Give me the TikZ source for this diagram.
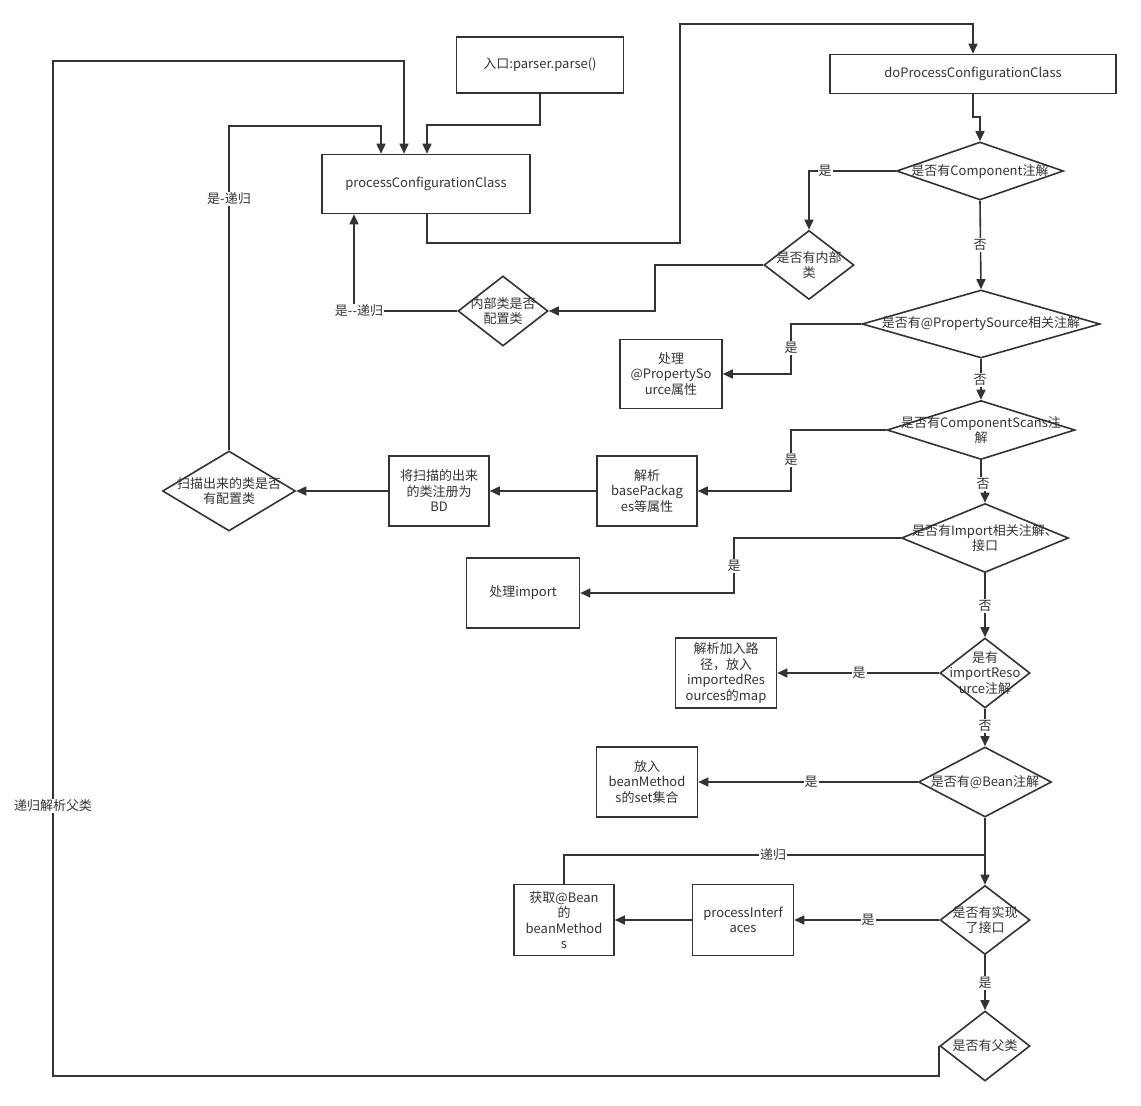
\documentclass[tikz,border=0pt]{standalone}
\usepackage{fontspec}
\setmainfont{Noto Sans CJK SC}
\usetikzlibrary{shapes.geometric,arrows.meta}
\definecolor{ink}{HTML}{333333}
\begin{document}
\begin{tikzpicture}[x=1pt,y=-1pt,
  every node/.style={font=\fontsize{13}{15.5}\selectfont, text=ink},
  box/.style={draw=ink, line width=1.6pt, rectangle, align=center, inner sep=0pt},
  dia/.style={draw=ink, line width=1.6pt, diamond, inner sep=0pt},
  dtext/.style={align=center, inner sep=0pt},
  conn/.style={draw=ink, line width=1.6pt},
  arr/.style={conn, -{Triangle[length=10pt,width=9pt]}},
  elab/.style={fill=white, inner sep=1pt}]
\useasboundingbox (0,0) rectangle (1141,1106);
% boxes
\node[box, minimum width=167pt, minimum height=56pt] (entry) at (540,65) {入口:parser.parse()};
\node[box, minimum width=208pt, minimum height=59pt] (pcc) at (426,184) {processConfigurationClass};
\node[box, minimum width=286pt, minimum height=39pt] (dop) at (973,74) {doProcessConfigurationClass};
\node[box, minimum width=102pt, minimum height=69pt] (prop) at (671,374) {处理\\@PropertySo\\urce属性};
\node[box, minimum width=100pt, minimum height=70pt] (basep) at (647,491) {解析\\basePackag\\es等属性};
\node[box, minimum width=100pt, minimum height=70pt] (reg) at (439,491) {将扫描的出来\\的类注册为\\BD};
\node[box, minimum width=113pt, minimum height=70pt] (imp) at (523,593) {处理import};
\node[box, minimum width=101pt, minimum height=70pt] (res) at (726,673) {解析加入路\\径，放入\\importedRes\\ources的map};
\node[box, minimum width=101pt, minimum height=70pt] (beans) at (647,782) {放入\\beanMethod\\s的set集合};
\node[box, minimum width=101pt, minimum height=71pt] (pint) at (743,920) {processInterf\\aces};
\node[box, minimum width=100pt, minimum height=71pt] (getb) at (564,920) {获取@Bean\\的\\beanMethod\\s};
% diamonds
\node[dia, minimum width=167pt, minimum height=58pt] (d1) at (980,171) {};
\node[dtext] (t1) at (d1) {是否有Component注解};
\node[dia, minimum width=90pt, minimum height=69pt] (d2) at (809,265) {};
\node[dtext] (t2) at (d2) {是否有内部\\类};
\node[dia, minimum width=90pt, minimum height=70pt] (inner) at (503,311) {};
\node[dtext] (tin) at (inner) {内部类是否\\配置类};
\node[dia, minimum width=238pt, minimum height=68pt] (d3) at (981,324) {};
\node[dtext] (t3) at (d3) {是否有@PropertySource相关注解};
\node[dia, minimum width=188pt, minimum height=59pt] (d4) at (981,430) {};
\node[dtext] (t4) at (d4) {是否有ComponentScans注\\解};
\node[dia, minimum width=167pt, minimum height=69pt] (d5) at (985,538) {};
\node[dtext] (t5) at (d5) {是否有Import相关注解、\\接口};
\node[dia, minimum width=90pt, minimum height=70pt] (d6) at (985,673) {};
\node[dtext] (t6) at (d6) {是有\\importReso\\urce注解};
\node[dia, minimum width=133pt, minimum height=70pt] (d7) at (985,782) {};
\node[dtext] (t7) at (d7) {是否有@Bean注解};
\node[dia, minimum width=90pt, minimum height=69pt] (d8) at (985,920) {};
\node[dtext] (t8) at (d8) {是否有实现\\了接口};
\node[dia, minimum width=90pt, minimum height=70pt] (d9) at (985,1046) {};
\node[dtext] (t9) at (d9) {是否有父类};
\node[dia, minimum width=133pt, minimum height=80pt] (scan) at (229,491) {};
\node[dtext] (tscan) at (scan) {扫描出来的类是否\\有配置类};
% connectors
\draw[arr] (entry.south) -- ++(0,31) -| ([xshift=1pt]pcc.north);
\draw[arr] ([xshift=1pt]pcc.south) |- (680,243) -- (680,24) -| (dop.north);
\draw[arr] (dop.south) -- (973,117) -| (d1.north);
\draw[arr] (d1.west) -| (d2.north);
\draw[arr] (d2.west) -- (655,265) |- (inner.east);
\draw[arr] (inner.west) -| ([xshift=-72pt]pcc.south);
\draw[arr] (d1.south) -- (d3.north);
\draw[arr] (d3.west) -- (791,324) |- (prop.east);
\draw[arr] (d3.south) -- (d4.north);
\draw[arr] (d4.west) -- (791,430) |- (basep.east);
\draw[arr] (basep.west) -- (reg.east);
\draw[arr] (reg.west) -- (scan.east);
\draw[arr] (scan.north) |- (381,126) -- ([xshift=-45pt]pcc.north);
\draw[arr] (d4.south) -- (981,482) -| (d5.north);
\draw[arr] (d5.west) -- (734,538) |- (imp.east);
\draw[arr] (d5.south) -- (d6.north);
\draw[arr] (d6.west) -- (res.east);
\draw[arr] (d6.south) -- (d7.north);
\draw[arr] (d7.west) -- (beans.east);
\draw[arr] (d7.south) -- (d8.north);
\draw[conn] (getb.north) |- (985,855);
\draw[arr] (d8.west) -- (pint.east);
\draw[arr] (pint.west) -- (getb.east);
\draw[arr] (d8.south) -- (d9.north);
\draw[arr] (d9.west) -- ++(0,30) -| (53,61) -| ([xshift=-22pt]pcc.north);
% edge labels
\node[elab] (l1) at (825,171) {是};
\node[elab] (l2) at (359,311) {是{-}{-}递归};
\node[elab] (l3) at (229,199) {是-递归};
\node[elab] (l4) at (980,245) {否};
\node[elab] (l5) at (791,348) {是};
\node[elab] (l6) at (980,380) {否};
\node[elab] (l7) at (791,460) {是};
\node[elab] (l8) at (983,484) {否};
\node[elab] (l9) at (734,566) {是};
\node[elab] (l10) at (985,606) {否};
\node[elab] (l11) at (859,673) {是};
\node[elab] (l12) at (985,726) {否};
\node[elab] (l13) at (811,782) {是};
\node[elab] (l14) at (773,855) {递归};
\node[elab] (l15) at (868,920) {是};
\node[elab] (l16) at (985,983) {是};
\node[elab] (l17) at (53,806) {递归解析父类};
\end{tikzpicture}
\end{document}
